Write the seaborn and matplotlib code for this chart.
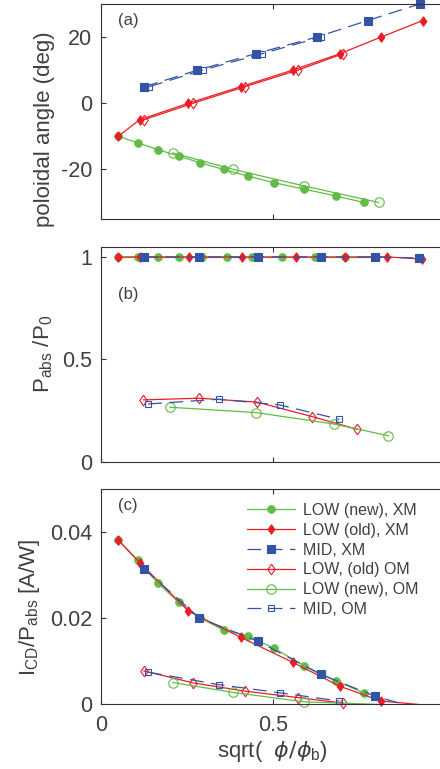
import matplotlib
matplotlib.use("Agg")
import matplotlib.pyplot as plt
import numpy as np
import seaborn as sns

# ──────────────────────────────────────────────────────────────────────────────
# Data
# ──────────────────────────────────────────────────────────────────────────────
labels = ["LOW (new), XM", "LOW (old), XM", "MID, XM",
          "LOW, (old) OM", "LOW (new), OM", "MID, OM"]

# x positions, sqrt(phi/phi_b)
x_low_new_xm = [0.051, 0.108, 0.166, 0.227, 0.289, 0.357, 0.427, 0.503, 0.592, 0.683, 0.764]
x_low_new_xm_b = [0.051, 0.107, 0.168, 0.229, 0.294, 0.366, 0.439, 0.526, 0.623, 0.71, 0.80]
x_low_old_xm = [0.051, 0.113, 0.255, 0.407, 0.558, 0.696, 0.815, 0.936]
x_low_old_xm_b = [0.051, 0.114, 0.258, 0.410, 0.568, 0.710, 0.833, 0.933]
x_mid_xm_a = [0.127, 0.281, 0.451, 0.628, 0.776, 0.927]
x_mid_xm_bc = [0.127, 0.287, 0.457, 0.639, 0.798, 0.926]
x_low_old_om = [0.125, 0.269, 0.419, 0.573, 0.705]
x_low_old_om_b = [0.124, 0.287, 0.455, 0.615, 0.746]
x_low_new_om = [0.209, 0.385, 0.591, 0.808]
x_low_new_om_b = [0.201, 0.451, 0.678, 0.836]
x_mid_om_a = [0.141, 0.296, 0.470, 0.640]
x_mid_om_bc = [0.138, 0.343, 0.521, 0.694]

# (a) poloidal angle (deg)
ang_low_new_xm = [-10, -12, -14, -16, -18, -20, -22, -24, -26, -28, -30]
ang_low_old_xm = [-10, -5, 0, 5, 10, 15, 20, 25]
ang_mid_xm = [5, 10, 15, 20, 25, 30]
ang_low_old_om = [-5, 0, 5, 10, 15]
ang_low_new_om = [-15, -20, -25, -30]
ang_mid_om = [5, 10, 15, 20]

# (b) Pabs/P0
pab_low_new_xm = [1, 1, 1, 1, 1, 1, 1, 1, 1, 1, 1]
pab_low_old_xm = [1, 1, 1, 1, 1, 1, 1, 0.99]
pab_mid_xm = [1, 1, 1, 1, 1, 0.995]
pab_low_old_om = [0.302, 0.310, 0.291, 0.220, 0.158]
pab_low_new_om = [0.266, 0.240, 0.184, 0.127]
pab_mid_om = [0.282, 0.305, 0.277, 0.207]

# (c) I_CD/Pabs [A/W]
icd_low_new_xm = [0.0381, 0.0334, 0.0281, 0.0237, 0.0200, 0.0172, 0.0159, 0.0130, 0.0089, 0.0054, 0.0026]
icd_low_old_xm = [0.0381, 0.0329, 0.0216, 0.0155, 0.0097, 0.0041, 0.0007, -0.0002]
icd_mid_xm = [0.0314, 0.0200, 0.0146, 0.0069, 0.0018, -0.0011]
icd_low_old_om = [0.0077, 0.0049, 0.0030, 0.0015, 0.0002]
icd_low_new_om = [0.0050, 0.0027, 0.0005, -0.0001]
icd_mid_om = [0.0074, 0.0045, 0.0026, 0.0007]

# ──────────────────────────────────────────────────────────────────────────────
# Style
# ──────────────────────────────────────────────────────────────────────────────
GREEN = "#62BB47"
RED = "#EC1C24"
BLUE = "#3353A6"
TXT = "#404040"
DIAMOND = [(0, 1), (0.7, 0), (0, -1), (-0.7, 0), (0, 1)]
DASH = (11, 6)

sns.set_theme(style="ticks")
plt.rcParams["font.family"] = ["Liberation Sans", "DejaVu Sans"]
plt.rcParams["axes.unicode_minus"] = False
plt.rcParams["mathtext.fontset"] = "dejavusans"
plt.rcParams["text.color"] = TXT
plt.rcParams["axes.labelcolor"] = TXT
plt.rcParams["xtick.color"] = "#333333"
plt.rcParams["ytick.color"] = "#333333"
plt.rcParams["xtick.labelcolor"] = TXT
plt.rcParams["ytick.labelcolor"] = TXT

# per series: color, marker, size, filled, dashed
series_style = [
    (GREEN, "o", 5.4, True, False),
    (RED, DIAMOND, 6.8, True, False),
    (BLUE, "s", 5.2, True, True),
    (RED, DIAMOND, 7.6, False, False),
    (GREEN, "o", 6.8, False, False),
    (BLUE, "s", 4.8, False, True),
]


def draw_series(ax, x, y, style, ymin):
    color, marker, size, filled, dashed = style
    x = np.asarray(x)
    y = np.asarray(y)
    # line (clipped to the axes)
    sns.lineplot(x=x, y=y, ax=ax, color=color, lw=0.9, sort=False,
                 estimator=None, label="_nolegend_")
    line = ax.lines[-1]
    if dashed:
        line.set_dashes(DASH)
    # markers, only where the point is inside the axes, not clipped
    keep = y >= ymin
    sns.lineplot(x=x[keep], y=y[keep], ax=ax, color=color, linestyle="none",
                 marker=marker, markersize=size,
                 markerfacecolor=color if filled else "none",
                 markeredgecolor=color, markeredgewidth=0.8,
                 sort=False, estimator=None, label="_nolegend_")
    ax.lines[-1].set_clip_on(False)
    # handle for the legend
    h, = ax.plot([], [], color=color, lw=0.9, marker=marker, markersize=size,
                 markerfacecolor=color if filled else "none",
                 markeredgecolor=color, markeredgewidth=0.8,
                 linestyle=(0, DASH) if dashed else "-")
    return h


fig = plt.figure(figsize=(4.4, 7.69), dpi=100)
ax_w = 344 / 440
ax_l = 100.7 / 440
ax_h = 215 / 769
ax_a = fig.add_axes([ax_l, 1 - 219 / 769, ax_w, ax_h])
ax_b = fig.add_axes([ax_l, 1 - 461.7 / 769, ax_w, ax_h])
ax_c = fig.add_axes([ax_l, 1 - 704 / 769, ax_w, ax_h])

panels = [
    (ax_a, (-35, 30),
     [x_low_new_xm, x_low_old_xm, x_mid_xm_a, x_low_old_om, x_low_new_om, x_mid_om_a],
     [ang_low_new_xm, ang_low_old_xm, ang_mid_xm, ang_low_old_om, ang_low_new_om, ang_mid_om]),
    (ax_b, (0, 1.05),
     [x_low_new_xm_b, x_low_old_xm_b, x_mid_xm_bc, x_low_old_om_b, x_low_new_om_b, x_mid_om_bc],
     [pab_low_new_xm, pab_low_old_xm, pab_mid_xm, pab_low_old_om, pab_low_new_om, pab_mid_om]),
    (ax_c, (0, 0.05),
     [x_low_new_xm, x_low_old_xm, x_mid_xm_bc, x_low_old_om, x_low_new_om, x_mid_om_bc],
     [icd_low_new_xm, icd_low_old_xm, icd_mid_xm, icd_low_old_om, icd_low_new_om, icd_mid_om]),
]

handles = []
for ax, ylim, xs, ys in panels:
    handles = [draw_series(ax, x, y, st, ylim[0])
               for x, y, st in zip(xs, ys, series_style)]
    ax.set_xlim(0, 1)
    ax.set_ylim(*ylim)
    for sp in ax.spines.values():
        sp.set_visible(True)
        sp.set_color("#333333")
        sp.set_linewidth(0.8)
    ax.tick_params(direction="in", length=3.6, width=0.8, top=True, right=True,
                   labelsize=15.5, pad=6)
    ax.set_xticks([0, 0.5, 1])

ax_a.set_yticks([-20, 0, 20], ["-20", "0", "20"])
ax_b.set_yticks([0, 0.5, 1], ["0", "0.5", "1"])
ax_c.set_yticks([0, 0.02, 0.04], ["0", "0.02", "0.04"])
ax_a.set_xticklabels([])
ax_b.set_xticklabels([])
ax_c.set_xticklabels(["0", "0.5", "1"])
ax_c.tick_params(axis="x", pad=8)

ax_a.set_ylabel("poloidal angle (deg)", fontsize=16)
ax_b.set_ylabel(r"P$_{\mathregular{abs}}$ /P$_{\mathregular{0}}$", fontsize=16)
ax_c.set_ylabel(r"I$_{\mathregular{CD}}$/P$_{\mathregular{abs}}$ [A/W]", fontsize=16)
ax_c.set_xlabel(r"sqrt(  $\phi/\phi_{\mathregular{b}}$)", fontsize=16, labelpad=2)
ax_a.yaxis.set_label_coords(-0.133, 0.42)
ax_b.yaxis.set_label_coords(-0.133, 0.5)
ax_c.yaxis.set_label_coords(-0.17, 0.45)

ax_a.text(0.05, 0.958, "(a)", transform=ax_a.transAxes, fontsize=12, va="top")
ax_b.text(0.05, 0.813, "(b)", transform=ax_b.transAxes, fontsize=12, va="top")
ax_c.text(0.05, 0.958, "(c)", transform=ax_c.transAxes, fontsize=12, va="top")

ax_c.legend(handles=handles, labels=labels, loc="upper left",
            bbox_to_anchor=(0.425, 0.935), frameon=False, fontsize=11.5,
            handlelength=3.0, handletextpad=0.5, labelspacing=0.3,
            borderpad=0, borderaxespad=0, numpoints=1)

plt.savefig("out.png", dpi=100)
plt.close()
